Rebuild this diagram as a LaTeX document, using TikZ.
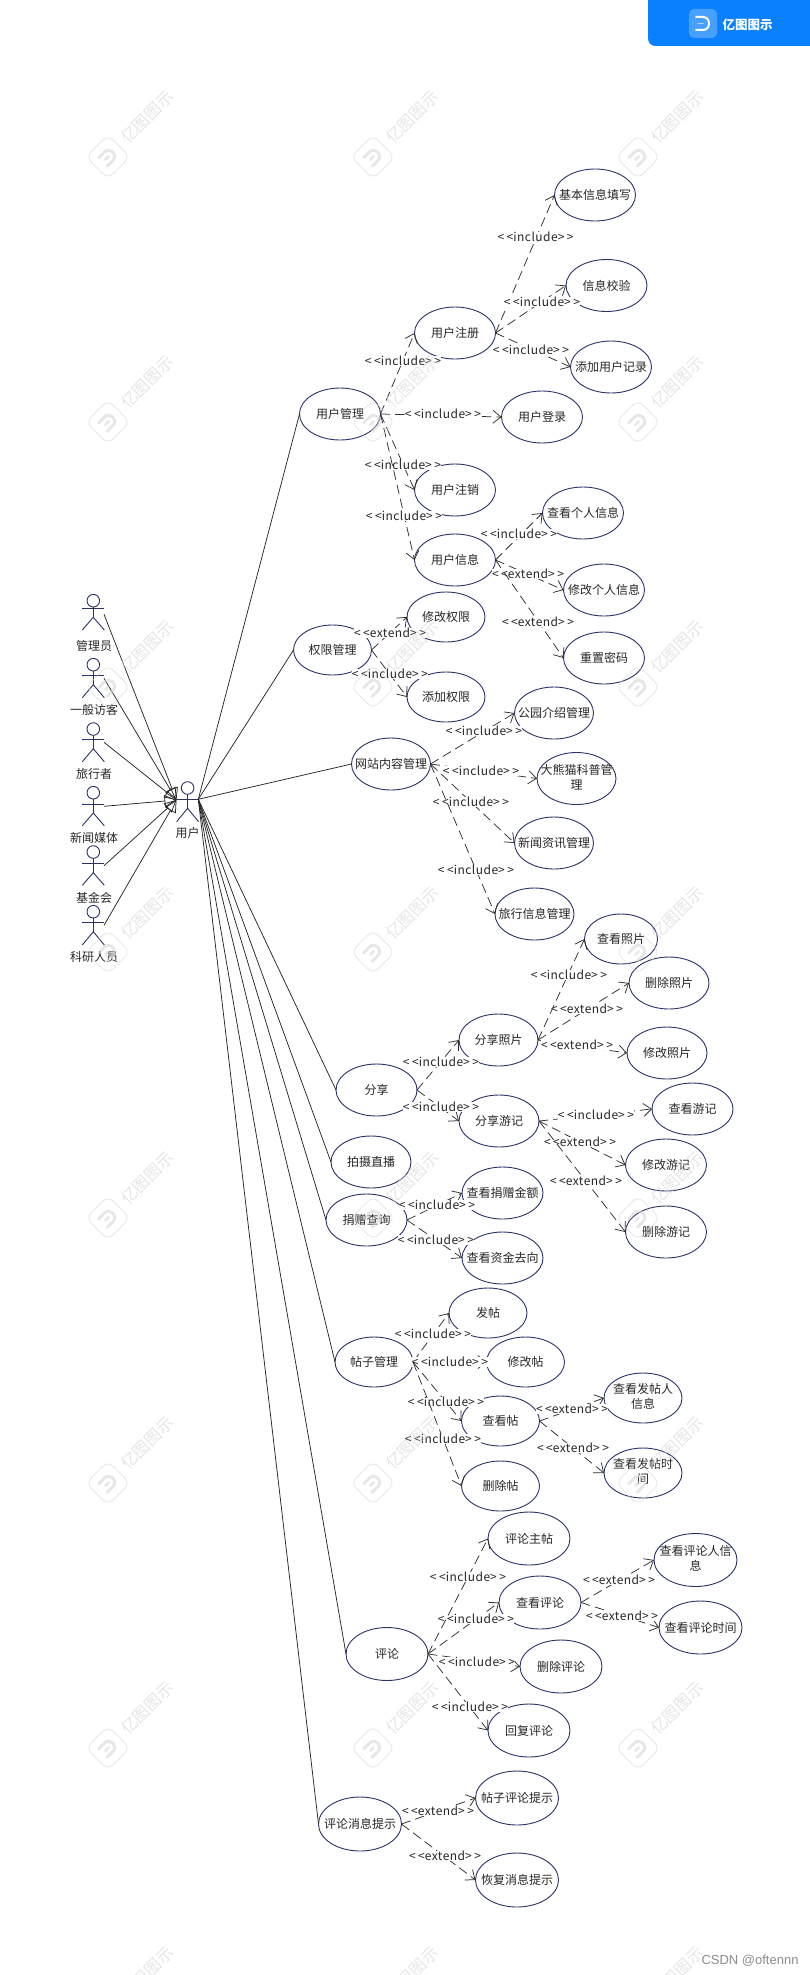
\documentclass[tikz,border=0pt]{standalone}
\usepackage{fontspec}
\setmainfont{Noto Sans CJK SC}
\newfontfamily\latinf{Liberation Sans}
\usetikzlibrary{shapes.geometric,arrows.meta}
\definecolor{ucline}{HTML}{2A3268}
\definecolor{conn}{HTML}{2E2E2E}
\definecolor{bannerblue}{HTML}{0A80FF}
\definecolor{wmgray}{HTML}{D4D4D4}
\newcommand\ut[1]{\makebox[0pt]{#1}}
\newcommand\uu[2]{\makebox[0pt]{\begin{tabular}{@{}c@{}}#1\\#2\end{tabular}}}
\newcommand\lsp[1]{{\addfontfeature{LetterSpace=4}#1}}
\newcommand\inc{<\kern2.5pt<\lsp{include}>\kern2.5pt>}
\newcommand\ext{<\kern2.5pt<\lsp{extend}>\kern2.5pt>}
\newcommand\dep[5]{\draw[depline] (#1.east) -- (#2.west);\node[lab] (l#2) at (#3,#4) {#5};}
\newcommand\actor[8]{%
  \draw[actorline] (#2,#3) circle[radius=6.3];
  \draw[actorline] (#2,#3+6.3) -- (#2,#4+9);
  \draw[actorline] (#2-11,#4) -- (#2+11,#4);
  \draw[actorline] (#2-11,#5) -- (#2,#4+9) -- (#2+11,#5);
  \node[actorname] (#1) at (#7,#6) {#8};}
\tikzset{
  every node/.style={font=\fontsize{12}{15}\selectfont},
  uc/.style={draw=ucline,line width=0.9pt,ellipse,inner sep=0pt,outer sep=0pt,minimum width=81pt,minimum height=52pt,text=black!85},
  ucs/.style={uc,minimum width=78pt,minimum height=50pt},
  ucm/.style={uc,minimum width=83pt,minimum height=54pt},
  depline/.style={conn,line width=0.75pt,dash pattern=on 9.5pt off 5pt,-{Straight Barb[length=8pt,width=13pt,line width=0.75pt]}},
  lab/.style={fill=white,inner sep=0pt,text=black!85},
  gen/.style={black!85,line width=0.75pt},
  genhead/.style={gen,-{Triangle[open,length=12pt,width=12pt,fill=none]}},
  actorline/.style={ucline,line width=0.9pt},
  actorname/.style={inner sep=0pt,text=black!85},
}
\begin{document}
\begin{tikzpicture}[x=1pt,y=-1pt]
\useasboundingbox (0,0) rectangle (810,1975);
\clip (0,0) rectangle (810,1975);
% use cases
\node[uc] (jb) at (595,195) {\ut{基本信息填写}};
\node[uc] (xy) at (606.5,285.5) {\ut{信息校验}};
\node[uc] (tj) at (611,367) {\ut{添加用户记录}};
\node[uc] (zc) at (455,333) {\ut{用户注册}};
\node[uc] (yg) at (340,414) {\ut{用户管理}};
\node[uc] (dl) at (542,417) {\ut{用户登录}};
\node[uc] (zx) at (455,490) {\ut{用户注销}};
\node[uc] (gr) at (583,513) {\ut{查看个人信息}};
\node[uc] (xx) at (455,560) {\ut{用户信息}};
\node[uc] (xg) at (604,590) {\ut{修改个人信息}};
\node[uc] (mm) at (604,658) {\ut{重置密码}};
\node[ucs] (qx) at (446,617) {\ut{修改权限}};
\node[ucs] (qg) at (332.5,650) {\ut{权限管理}};
\node[ucs] (tq) at (446,697) {\ut{添加权限}};
\node[uc,minimum width=79pt] (gy) at (554,713) {\ut{公园介绍管理}};
\node[uc,minimum width=79pt] (wz) at (391,764) {\ut{网站内容管理}};
\node[uc,minimum width=79pt] (dx) at (576.5,778.5) {\uu{大熊猫科普管}{理}};
\node[uc,minimum width=79pt] (xw) at (554,843) {\ut{新闻资讯管理}};
\node[uc,minimum width=79pt] (ly) at (534.5,914) {\ut{旅行信息管理}};
\node[uc,minimum width=73pt,minimum height=50pt] (ckz) at (621,939) {\ut{查看照片}};
\node[uc,minimum width=80pt] (scz) at (669,983) {\ut{删除照片}};
\node[uc,minimum width=79pt] (fz) at (498.5,1040) {\ut{分享照片}};
\node[uc,minimum width=80pt] (xz) at (667,1053) {\ut{修改照片}};
\node[uc] (fx) at (376.5,1090) {\ut{分享}};
\node[uc,minimum width=80pt] (fy) at (499,1121) {\ut{分享游记}};
\node[uc] (cy) at (692.5,1109) {\ut{查看游记}};
\node[uc] (xyj) at (666,1165) {\ut{修改游记}};
\node[uc] (sy) at (666,1232) {\ut{删除游记}};
\node[uc,minimum width=80pt] (ps) at (371,1162) {\ut{拍摄直播}};
\node[uc] (je) at (502.5,1193) {\ut{查看捐赠金额}};
\node[uc] (jz) at (366.5,1220) {\ut{捐赠查询}};
\node[uc] (zj) at (502.5,1258) {\ut{查看资金去向}};
\node[ucs] (ft) at (488,1313) {\ut{发帖}};
\node[ucs] (tz) at (374,1362) {\ut{帖子管理}};
\node[ucs] (xt) at (525.5,1362) {\ut{修改帖}};
\node[ucs] (fr) at (643,1398) {\uu{查看发帖人}{信息}};
\node[ucs] (ct) at (500.5,1421) {\ut{查看帖}};
\node[ucs] (st) at (500.5,1486) {\ut{删除帖}};
\node[ucs] (fs) at (643,1473) {\uu{查看发帖时}{间}};
\node[uc,minimum width=82pt,minimum height=53pt] (zt) at (529,1538.5) {\ut{评论主帖}};
\node[uc,minimum width=83pt,minimum height=53pt] (pr) at (695.5,1560) {\uu{查看评论人信}{息}};
\node[uc,minimum width=82pt,minimum height=53pt] (cp) at (540,1602.5) {\ut{查看评论}};
\node[uc,minimum width=83pt,minimum height=53pt] (ps2) at (700.5,1627.5) {\ut{查看评论时间}};
\node[uc,minimum width=82pt,minimum height=53pt] (pl) at (387,1654) {\ut{评论}};
\node[uc,minimum width=82pt,minimum height=53pt] (sp) at (561,1666.5) {\ut{删除评论}};
\node[uc,minimum width=82pt,minimum height=53pt] (hf) at (529,1730.5) {\ut{回复评论}};
\node[ucm] (tp) at (517,1798) {\ut{帖子评论提示}};
\node[ucm] (xp) at (360,1824) {\ut{评论消息提示}};
\node[ucm] (hx) at (517,1880) {\ut{恢复消息提示}};
% actors
\actor{gl}{93.3}{600.7}{608.3}{630}{645.7}{94}{管理员}
\actor{fk}{93.3}{664.7}{675.7}{697.7}{710}{94}{一般访客}
\actor{lx}{93.3}{729}{739.7}{761.7}{774}{94}{旅行者}
\actor{mt}{93.3}{792.7}{804}{825.7}{837.7}{94}{新闻媒体}
\actor{jj}{93.3}{852}{863.7}{885.3}{898}{94}{基金会}
\actor{ky}{93.3}{911.7}{922.7}{945}{956.7}{94}{科研人员}
\actor{yh}{187.6}{788}{799.3}{821.7}{833.3}{187.7}{用户}
\coordinate (a1) at (104,614.3);
\coordinate (a2) at (104,678.3);
\coordinate (a3) at (104,742.3);
\coordinate (a4) at (104,806.3);
\coordinate (a5) at (104,865.7);
\coordinate (a6) at (104,925.3);
\coordinate (uL) at (176.5,800);
\coordinate (uR) at (198.3,799.3);
\foreach \a in {a1,a2,a3,a4,a5,a6} \draw[genhead] (\a) -- (uL);
\foreach \b in {yg,qg,wz,fx,ps,jz,tz,pl,xp} \draw[gen] (uR) -- (\b.west);
% dependencies
\dep{zc}{jb}{535.6}{237}{\inc}
\dep{zc}{xy}{542}{302}{\inc}
\dep{zc}{tj}{531}{350}{\inc}
\dep{yg}{zc}{403}{361}{\inc}
\dep{yg}{dl}{443}{414}{\inc}
\dep{yg}{zx}{403}{465}{\inc}
\dep{yg}{xx}{404}{516}{\inc}
\dep{xx}{gr}{519}{534}{\inc}
\dep{xx}{xg}{528}{574}{\ext}
\dep{xx}{mm}{538}{622}{\ext}
\dep{qg}{qx}{390}{633}{\ext}
\dep{qg}{tq}{390}{674}{\inc}
\dep{wz}{gy}{484}{731}{\inc}
\dep{wz}{dx}{481}{771}{\inc}
\dep{wz}{xw}{471}{802}{\inc}
\dep{wz}{ly}{476}{870}{\inc}
\dep{fz}{scz}{587}{1009}{\ext}
\dep{fz}{ckz}{569}{975}{\inc}
\dep{fz}{xz}{577}{1045}{\ext}
\dep{fx}{fz}{441}{1062}{\inc}
\dep{fx}{fy}{441}{1107}{\inc}
\dep{fy}{cy}{596}{1115}{\inc}
\dep{fy}{xyj}{580}{1142}{\ext}
\dep{fy}{sy}{586}{1181}{\ext}
\dep{jz}{je}{437}{1205}{\inc}
\dep{jz}{zj}{436}{1240}{\inc}
\dep{tz}{ft}{433}{1334}{\inc}
\dep{tz}{xt}{450}{1362}{\inc}
\dep{tz}{ct}{446}{1402}{\inc}
\dep{tz}{st}{443}{1439}{\inc}
\dep{ct}{fr}{572}{1409}{\ext}
\dep{ct}{fs}{573}{1448}{\ext}
\dep{pl}{cp}{476}{1619}{\inc}
\dep{pl}{zt}{468}{1577}{\inc}
\dep{pl}{sp}{477}{1662}{\inc}
\dep{pl}{hf}{470}{1707}{\inc}
\dep{cp}{pr}{619}{1580}{\ext}
\dep{cp}{ps2}{622}{1616}{\ext}
\dep{xp}{tp}{438}{1811}{\ext}
\dep{xp}{hx}{445}{1856}{\ext}
% watermarks
\foreach \cx in {108,373,638}{
  \foreach \cy in {157,422,687,952,1218,1483,1748}{
    \begin{scope}[shift={(\cx,\cy)},rotate=45,opacity=0.55]
      \draw[wmgray,line width=0.9pt,rounded corners=7pt] (-15.5,-15.5) rectangle (15.5,15.5);
      \draw[wmgray,line width=3pt,line cap=round] (-7,-6) -- (1,-6) .. controls (9,-6) and (9,6) .. (1,6) -- (-7,6);
      \draw[wmgray,line width=2.5pt,line cap=round] (-4,0) -- (1,0);
    \end{scope}
  }
  \foreach \ty in {117,382,647,913,1178,1443,1708,1973}{
    \node[rotate=45,text=wmgray,opacity=0.6,font=\fontsize{16.5}{18}\selectfont] at (\cx+39,\ty) {亿图图示};
  }
}
% banner
\fill[bannerblue] (648,0) -- (810,0) -- (810,46) -- (656,46) .. controls (651,46) and (648,43) .. (648,38) -- cycle;
\fill[white!25!bannerblue,rounded corners=5pt] (689,9) rectangle (717,38);
\draw[white,line width=2pt,line cap=round] (696,17) -- (703,17) .. controls (711,17) and (711,30) .. (703,30) -- (696,30);
\draw[white!70!bannerblue,line width=1.6pt,line cap=round] (698,23.5) -- (703,23.5);
\node[text=white,font=\fontsize{12.5}{14}\bfseries\selectfont] (brand) at (747.5,25) {亿图图示};
\node[text=black!45,font=\latinf\fontsize{13}{14}\selectfont] (csdn) at (750,1961) {CSDN @oftennn};
\end{tikzpicture}
\end{document}
